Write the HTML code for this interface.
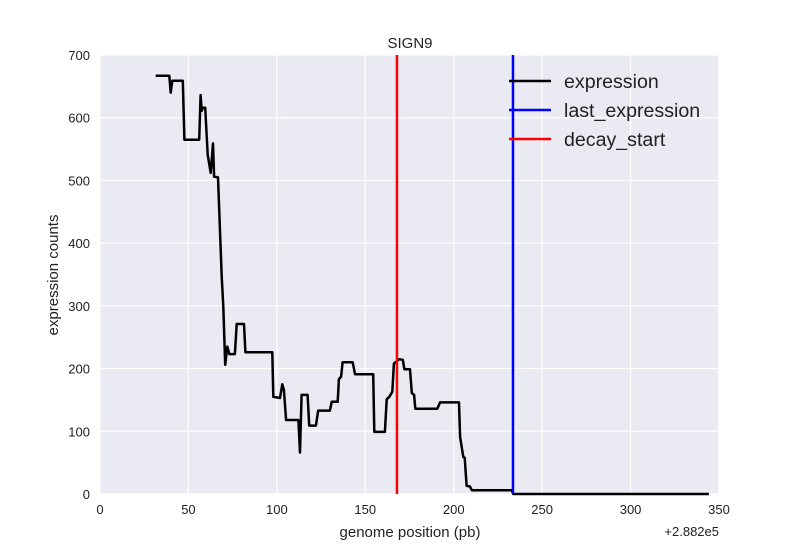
<!DOCTYPE html>
<html><head><meta charset="utf-8"><style>
body{margin:0;background:#fff;font-family:"Liberation Sans",sans-serif}
svg text{font-family:"Liberation Sans",sans-serif}
</style></head><body>
<svg id="c" width="800" height="550" xmlns="http://www.w3.org/2000/svg"></svg>
<script>
const xs=[31.5,39.2,40.0,40.9,46.8,47.7,56.1,56.9,57.5,58.1,59.5,60.9,62.6,63.9,64.5,66.7,68.8,69.7,70.8,72.0,73.1,76.3,77.3,81.4,82.2,97.4,98.0,101.8,103.1,104.0,105.2,111.2,112.2,113.1,114.0,117.4,118.3,122.1,123.4,130.0,131.0,134.4,135.1,136.3,137.2,142.9,144.2,154.5,155.1,161.1,162.1,163.6,165.3,166.2,169.2,171.2,172.1,175.3,176.3,177.6,178.3,190.7,192.3,203.0,203.6,205.4,206.2,207.3,209.2,210.2,232.8,233.7,344.3];
const ys=[667,667,640,659,659,565,565,636,611,616,616,541,512,559,506,505,347,299,206,235,223,223,271,271,226,226,155,153,175,166,118,118,118,66,158,158,109,109,133,133,147,147,183,187,210,210,191,191,99,99,151,155,163,208,215,214,199,199,161,158,136,136,146,146,91,59,58,13,12,6,6,0,0];
const decayStart=[167.9];
const lastExpression=[233.5];
const xTicks=[0,50,100,150,200,250,300,350];
const yTicks=[0,100,200,300,400,500,600,700];
const L=100,R=719,T=55,B=494;
const X=v=>L+(v-0)/350*(R-L), Y=v=>B-(v/700)*(B-T);
const s=document.getElementById('c'),NS='http://www.w3.org/2000/svg';
function el(t,a,p){const e=document.createElementNS(NS,t);for(const k in a)e.setAttribute(k,a[k]);(p||s).appendChild(e);return e;}
let bg=el('rect',{x:L,y:T,width:R-L,height:B-T,fill:'#eaeaf2'});


xTicks.forEach(v=>{let g=el('line',{x1:X(v),x2:X(v),y1:T,y2:B,stroke:'#fff','stroke-width':1.2});


let t=el('text',{x:X(v),y:514,'text-anchor':'middle','font-size':13,fill:'#222'});t.textContent=v;

});
yTicks.forEach(v=>{let g=el('line',{x1:L,x2:R,y1:Y(v),y2:Y(v),stroke:'#fff','stroke-width':1.2});


let t=el('text',{x:90,y:Y(v)+5,'text-anchor':'end','font-size':13,fill:'#222'});t.textContent=v;

});
let d=xs.map((x,i)=>(i?'L':'M')+X(x).toFixed(1)+','+Y(ys[i]).toFixed(1)).join('');
let p=el('path',{d:d,fill:'none',stroke:'#000','stroke-width':2.5,'stroke-linejoin':'round'});


decayStart.forEach(v=>{let l=el('line',{x1:X(v),x2:X(v),y1:T,y2:B,stroke:'#f00','stroke-width':2.5});

});
lastExpression.forEach(v=>{let l=el('line',{x1:X(v),x2:X(v),y1:T,y2:B,stroke:'#00f','stroke-width':2.5});

});
const leg=[['expression','#000',81],['last_expression','#00f',110],['decay_start','#f00',139]];
leg.forEach(a=>{let l=el('line',{x1:509,x2:551,y1:a[2],y2:a[2],stroke:a[1],'stroke-width':2.5});


let t=el('text',{x:564,y:a[2]+7,'font-size':19.6,fill:'#222'});t.textContent=a[0];

});
let t1=el('text',{x:410,y:48,'text-anchor':'middle','font-size':15,fill:'#222'});t1.textContent='SIGN9';


let t2=el('text',{x:410,y:537,'text-anchor':'middle','font-size':15,fill:'#222'});t2.textContent='genome position (pb)';


let t3=el('text',{x:58,y:275,'text-anchor':'middle','font-size':15,fill:'#222',transform:'rotate(-90 58 275)'});t3.textContent='expression counts';


let t4=el('text',{x:719,y:536,'text-anchor':'end','font-size':13,fill:'#222'});t4.textContent='+2.882e5';


</script>
</body></html>
